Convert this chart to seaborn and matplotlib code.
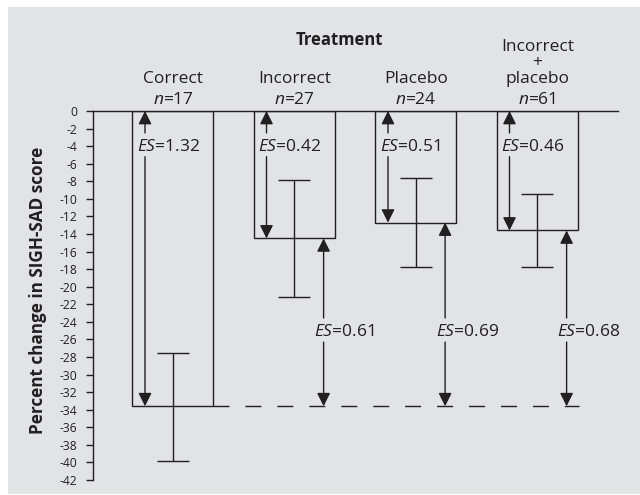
import matplotlib
matplotlib.use("Agg")
import matplotlib.pyplot as plt
from matplotlib.patches import Rectangle
import pandas as pd
import seaborn as sns

# Group data: mean percent change in SIGH-SAD score with CI limits
groups = ["Correct", "Incorrect", "Placebo", "Incorrect + placebo"]
header_names = ["Correct", "Incorrect", "Placebo", "Incorrect\n+\nplacebo"]
n_sizes = [17, 27, 24, 61]
mean_change = [-33.6, -14.5, -12.7, -13.6]
ci_low = [-39.8, -21.2, -17.8, -17.8]
ci_high = [-27.5, -7.9, -7.6, -9.5]
# Effect sizes: baseline-to-end within each group, and each group vs. Correct
es_within = [1.32, 0.42, 0.51, 0.46]
es_vs_correct = [0.61, 0.69, 0.68]
ytick_values = [0, -2, -4, -6, -8, -10, -12, -14, -16, -18, -20, -22,
                -24, -26, -28, -30, -32, -34, -36, -38, -40, -42]

ink = "#231f20"
panel = "#e2e3e5"

sns.set_style("white")
plt.rcParams["font.family"] = ["Open Sans", "DejaVu Sans"]
plt.rcParams["font.weight"] = "medium"
plt.rcParams["mathtext.fontset"] = "custom"
plt.rcParams["mathtext.rm"] = "Open Sans:medium"
plt.rcParams["mathtext.it"] = "Open Sans:italic:medium"

fig = plt.figure(figsize=(6.4, 4.95), dpi=100, facecolor="white")
fig.patches.append(Rectangle((8 / 640, 1 / 495), 1, (495 - 8) / 495,
                             transform=fig.transFigure, facecolor=panel,
                             edgecolor="none", zorder=-10))
ax = fig.add_axes([93 / 640, 15 / 495, 525 / 640, 369 / 495])
ax.set_facecolor(panel)
ax.patch.set_alpha(0)

df = pd.DataFrame({"group": groups, "change": mean_change})
sns.barplot(data=df, x="group", y="change", order=groups, width=0.667,
            fill=False, color=ink, linewidth=1.0, errorbar=None, ax=ax)

xs = list(range(len(groups)))
yerr = [[m - lo for m, lo in zip(mean_change, ci_low)],
        [hi - m for m, hi in zip(mean_change, ci_high)]]
ax.errorbar(xs, mean_change, yerr=yerr, fmt="none", ecolor=ink,
            elinewidth=1.0, capsize=11.5, capthick=1.0, zorder=3)

arrow_kw = dict(arrowstyle="-|>,head_length=0.8,head_width=0.4", lw=1.0,
                color=ink, shrinkA=0, shrinkB=0, mutation_scale=10)


def arrow(x, y_from, y_to):
    ax.annotate("", xy=(x, y_to), xytext=(x, y_from), arrowprops=arrow_kw,
                annotation_clip=False)


label_fs = 12.5
# Within-group effect size arrows (from 0 down to each group's mean)
for i, (m, es) in enumerate(zip(mean_change, es_within)):
    xa = i - 0.23
    arrow(xa, -2.5, 0)
    arrow(xa, -5.2, m)
    ax.text(i - 0.296, -4.52, f"$ES$={es:.2f}", ha="left", va="baseline",
            fontsize=label_fs, color=ink)

# Effect size arrows for each group vs. Correct
m0 = mean_change[0]
for i, es in enumerate(es_vs_correct, start=1):
    xa = i + 0.24
    arrow(xa, -23.56, mean_change[i])
    arrow(xa, -26.3, m0)
    ax.text(xa - 0.075, -25.6, f"$ES$={es:.2f}", ha="left", va="baseline",
            fontsize=label_fs, color=ink)

ax.plot([0.3335, 3.345], [m0, m0], color=ink, lw=1.0, dashes=(11.5, 11.5),
        zorder=1)

# Group headers: the bottom line of each name sits on a common baseline
for i, (name, n) in enumerate(zip(header_names, n_sizes)):
    ax.text(i, 0.8, f"$n$={n}", ha="center", va="baseline",
            fontsize=label_fs, color=ink, clip_on=False)
    ax.text(i, 3.22, name, ha="center", va="baseline", ma="center",
            linespacing=0.97, fontsize=label_fs, color=ink, clip_on=False)
ax.text(1.37, 7.5, "Treatment", ha="center", va="baseline", fontsize=12,
        fontweight="bold", color=ink, clip_on=False)

ax.set_xlim(-0.658, 3.663)
ax.set_ylim(-42, 0)
ax.set_xticks([])
ax.set_xlabel("")
ax.set_yticks(ytick_values)
ax.set_yticklabels([str(v) for v in ytick_values])
ax.tick_params(axis="y", length=5, width=1.0, pad=6.5, labelsize=8.7,
               colors=ink, left=True)
for side in ("right", "bottom"):
    ax.spines[side].set_visible(False)
for side in ("left", "top"):
    ax.spines[side].set_color(ink)
    ax.spines[side].set_linewidth(1.0)

ax.set_ylabel("Percent change in SIGH-SAD score", fontsize=12.3,
              fontweight="bold", color=ink)
ax.yaxis.set_label_coords(-0.105, 0.515)
ax.yaxis.label.set_va("center")

fig.savefig("out.png", dpi=100, facecolor="white")
